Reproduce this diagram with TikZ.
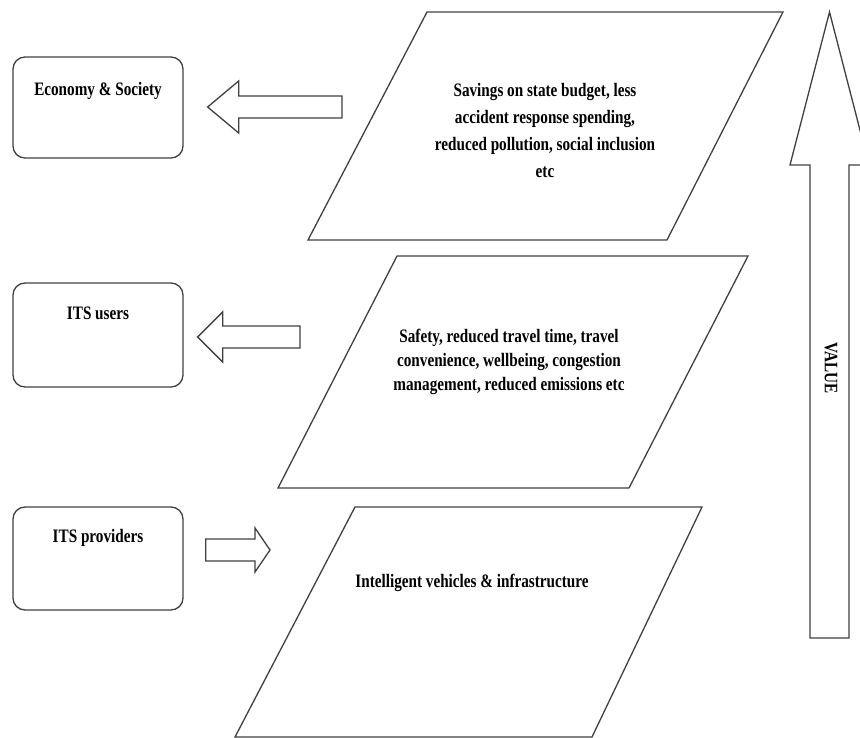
\documentclass[tikz,border=0pt]{standalone}
\usepackage{fontspec}
\setmainfont{Liberation Serif}[FakeStretch=0.8]
\usetikzlibrary{calc}
\tikzset{
	layer/.style={line width=1.3pt,draw=black!75},%
	orgbox/.style={line width=1.3pt,draw=black!75,rounded corners=12pt,minimum width=170pt},%
	blockarrow/.style={line width=1.3pt,draw=black!75,fill=white},%
	boxlabel/.style={font=\bfseries\fontsize{19}{27}\selectfont,inner sep=0pt},%
	layertext/.style={font=\bfseries\fontsize{19}{27}\selectfont,align=center,inner sep=0pt},%
	tightlayertext/.style={layertext,font=\bfseries\fontsize{19}{24}\selectfont},%
}
\def\bodyw{11pt}
\def\headw{26pt}
\def\headl{31pt}
% block arrow from tail #1 to tip #2
\newcommand\blockarrow[2]{%
	\path ($(#2)!\headl!(#1)$) coordinate (hb);
	\draw[blockarrow] ($(#1)!\bodyw!90:(#2)$) -- ($(hb)!\bodyw!90:(#2)$) -- ($(hb)!\headw!90:(#2)$) -- (#2)
		-- ($(hb)!\headw!-90:(#2)$) -- ($(hb)!\bodyw!-90:(#2)$) -- ($(#1)!\bodyw!-90:(#2)$) -- cycle;
}

\begin{document}
\begin{tikzpicture}[%
		x=1pt,y=-1pt,%
		]
		\useasboundingbox (0,0) rectangle (860,738);
		% stakeholders
		\node[orgbox,minimum height=101pt,label={[boxlabel,anchor=north,yshift=-26pt]north:Economy \& Society}] (eco) at (98,107.5) {};
		\node[orgbox,minimum height=104pt,label={[boxlabel,anchor=north,yshift=-24pt]north:ITS users}] (users) at (98,335) {};
		\node[orgbox,minimum height=103pt,label={[boxlabel,anchor=north,yshift=-23pt]north:ITS providers}] (providers) at (98,558.5) {};
		% value layers
		\draw[layer] (427,12) -- (783,12) -- (667,240) -- (308,240) -- cycle;
		\node[layertext] (benefits) at (545,131) {Savings on state budget, less\\accident response spending,\\reduced pollution, social inclusion\\etc};
		\draw[layer] (397,256) -- (748,256) -- (629,488) -- (278,488) -- cycle;
		\node[tightlayertext] (outcomes) at (509,362) {Safety, reduced travel time, travel\\convenience, wellbeing, congestion\\management, reduced emissions etc};
		\draw[layer] (355,507) -- (702,507) -- (592,737) -- (235,737) -- cycle;
		\node[layertext] (systems) at (472,583) {Intelligent vehicles \& infrastructure};
		% flows
		\coordinate (ecotail) at (342,107);
		\blockarrow{ecotail}{[xshift=24pt,yshift=0.5pt]eco.east}
		\coordinate (userstail) at (300,337);
		\def\headw{25pt}\def\headl{25pt}
		\blockarrow{userstail}{[xshift=14pt,yshift=-2pt]users.east}
		\coordinate (provtip) at (270,550);
		\def\headw{22pt}\def\headl{15pt}
		\blockarrow{[xshift=22pt,yshift=8.5pt]providers.east}{provtip}
		% value axis
		\coordinate (valuebase) at (829.5,638);
		\coordinate (valuetip) at (829.5,12);
		\def\bodyw{19.5pt}\def\headw{39.5pt}\def\headl{153pt}
		\blockarrow{valuebase}{valuetip}
		\node[boxlabel,rotate=-90] (value) at (831,368) {VALUE};
	\end{tikzpicture}
\end{document}
